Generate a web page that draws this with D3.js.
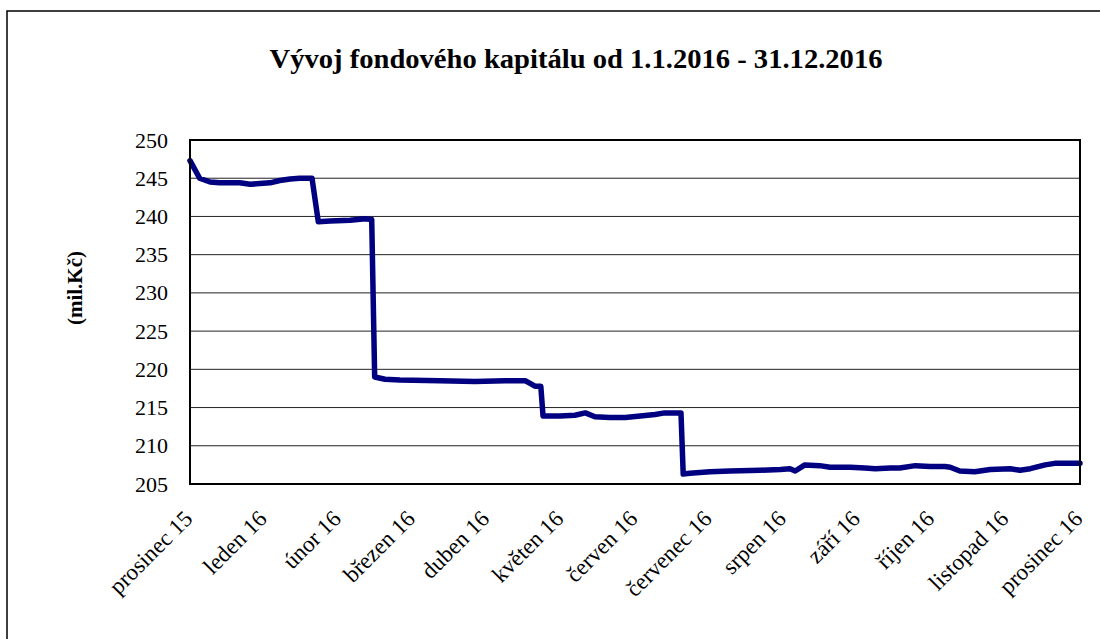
<!DOCTYPE html>
<html lang="cs">
<head>
<meta charset="UTF-8" />
<title>Vývoj fondového kapitálu 2016</title>
<script src="https://d3js.org/d3.v7.min.js"></script>
<style>
  body { margin: 0; background: #fff; }
  svg { display: block; }
  svg text { font-family: "Liberation Serif", "DejaVu Serif", serif; fill: #000; }
  .grid line { stroke: #222; stroke-width: 1px; }
  .series { fill: none; stroke: #000080; stroke-width: 5.5px; stroke-linejoin: round; stroke-linecap: round; }
</style>
</head>
<body>
<svg id="chart"></svg>
<script>
// ---- data ----
const monthLabels = ["prosinec 15", "leden 16", "únor 16", "březen 16", "duben 16", "květen 16",
  "červen 16", "červenec 16", "srpen 16", "září 16", "říjen 16", "listopad 16", "prosinec 16"];

// position along the axis in months (0 = prosinec 15, 12 = prosinec 16)
const monthPos = [0, 0.13, 0.27, 0.40, 0.67, 0.81, 0.94, 1.08, 1.21, 1.35, 1.48, 1.645,
  1.73, 1.89, 2.16, 2.36, 2.45,
  2.49, 2.63, 2.83, 3.37, 3.84, 4.25, 4.52, 4.58, 4.65, 4.73,
  4.76, 4.99, 5.19, 5.33, 5.46, 5.66, 5.87, 6.07, 6.27, 6.40, 6.62,
  6.65, 6.74, 7.01, 7.28, 7.69, 7.96, 8.09, 8.16, 8.29, 8.49, 8.63, 8.90, 9.10, 9.24, 9.44,
  9.57, 9.78, 9.98, 10.18, 10.25, 10.38, 10.58, 10.79, 11.06, 11.19, 11.33, 11.53, 11.66, 12];

// fund capital, mil. Kč
const capital = [247.3, 245.0, 244.5, 244.4, 244.4, 244.2, 244.3, 244.4, 244.7, 244.9, 245.0, 245.0,
  239.3, 239.4, 239.5, 239.7, 239.6,
  219.0, 218.7, 218.6, 218.5, 218.4, 218.5, 218.5, 218.2, 217.8, 217.8,
  213.9, 213.9, 214.0, 214.3, 213.8, 213.7, 213.7, 213.9, 214.1, 214.3, 214.3,
  206.3, 206.4, 206.6, 206.7, 206.8, 206.9, 207.0, 206.7, 207.5, 207.4, 207.2, 207.2, 207.1, 207.0, 207.1,
  207.1, 207.4, 207.3, 207.3, 207.2, 206.7, 206.6, 206.9, 207.0, 206.8, 207.0, 207.5, 207.7, 207.7];

const yTicks = [205, 210, 215, 220, 225, 230, 235, 240, 245, 250];

// ---- layout ----
const width = 1100, height = 639;
const plot = { left: 190, top: 140, right: 1080, bottom: 484 };
const serif = "'Liberation Serif', 'DejaVu Serif', serif";

const svg = d3.select("#chart").attr("width", width).attr("height", height);

// outer frame
svg.append("rect")
  .attr("x", 7).attr("y", 11)
  .attr("width", width).attr("height", height)
  .attr("fill", "none").attr("stroke", "#000").attr("stroke-width", 1.5);

const x = d3.scaleLinear().domain([0, monthLabels.length - 1]).range([plot.left, plot.right]);
const y = d3.scaleLinear().domain([205, 250]).range([plot.bottom, plot.top]);

// title
svg.append("text")
  .attr("x", 576).attr("y", 68)
  .attr("text-anchor", "middle")
  .attr("font-family", serif)
  .attr("font-size", 28).attr("font-weight", "bold")
  .attr("textLength", 613).attr("lengthAdjust", "spacingAndGlyphs")
  .text("Vývoj fondového kapitálu od 1.1.2016 - 31.12.2016");

// y axis title
svg.append("text")
  .attr("transform", "translate(82,288) rotate(-90)")
  .attr("text-anchor", "middle")
  .attr("font-family", serif)
  .attr("font-size", 21).attr("font-weight", "bold")
  .text("(mil.Kč)");

// gridlines
svg.append("g").attr("class", "grid")
  .selectAll("line")
  .data(yTicks.slice(1, -1))
  .join("line")
  .attr("x1", plot.left).attr("x2", plot.right)
  .attr("y1", d => y(d)).attr("y2", d => y(d));

// y axis labels
const yAxis = d3.axisLeft(y).tickValues(yTicks).tickSize(0).tickPadding(22);
svg.append("g")
  .attr("transform", `translate(${plot.left},0)`)
  .call(yAxis)
  .attr("font-family", serif)
  .attr("font-size", 22)
  .call(g => g.select(".domain").remove())
  .selectAll("text")
  .attr("fill", "#000");

// x axis labels (rotated)
svg.append("g")
  .attr("font-family", serif)
  .selectAll("text")
  .data(monthLabels)
  .join("text")
  .attr("transform", (d, i) => `translate(${x(i) + 4},${plot.bottom + 36}) rotate(-45)`)
  .attr("text-anchor", "end")
  .attr("font-size", 23)
  .text(d => d);

// series line
const points = monthPos.map((m, i) => [m, capital[i]]);
const line = d3.line().x(d => x(d[0])).y(d => y(d[1]));
svg.append("path")
  .datum(points)
  .attr("class", "series")
  .attr("d", line);

// plot area border
svg.append("rect")
  .attr("x", plot.left).attr("y", plot.top)
  .attr("width", plot.right - plot.left).attr("height", plot.bottom - plot.top)
  .attr("fill", "none").attr("stroke", "#000").attr("stroke-width", 2);
</script>
</body>
</html>
